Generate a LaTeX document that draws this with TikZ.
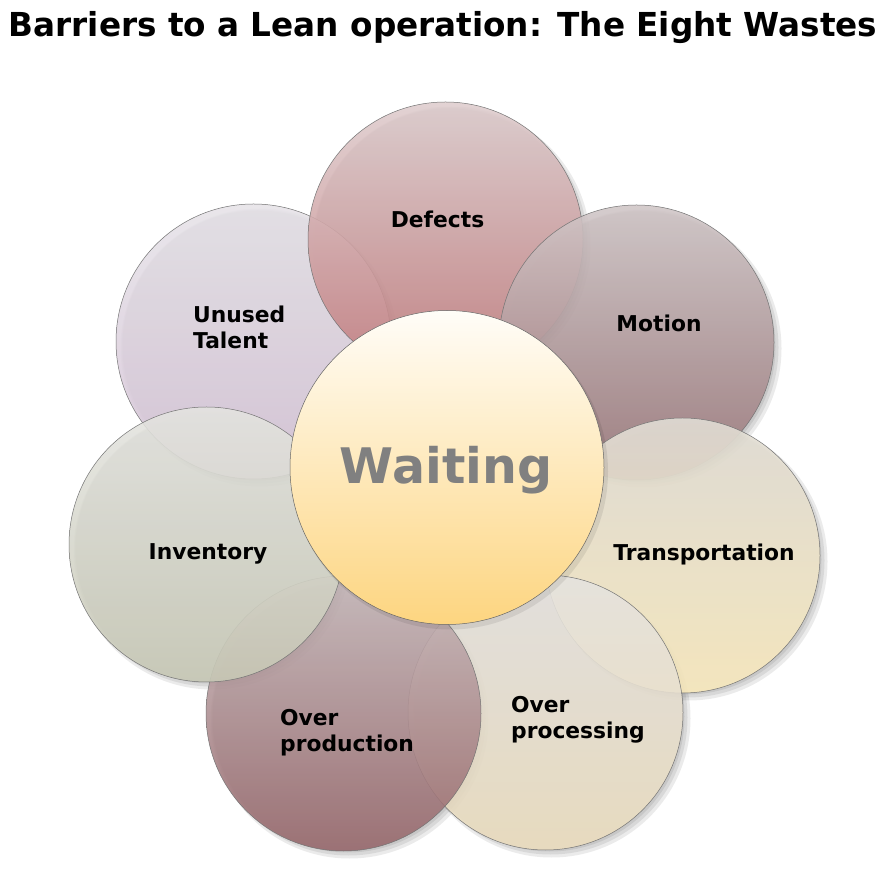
\documentclass[tikz,border=0pt]{standalone}
\usepackage{fontspec}
\setmainfont{DejaVu Sans}
\usepackage{graphicx}
\begin{document}
\begin{tikzpicture}[x=1pt,y=1pt,
  blob/.style={circle, minimum size=275pt, inner sep=0pt, draw=black!55, line width=0.5pt, fill opacity=0.88},
  hub/.style={circle, minimum size=314pt, inner sep=0pt, draw=black!60, line width=0.5pt},
  lbl/.style={font=\fontsize{21.8}{26}\selectfont\bfseries, text=black, align=left, inner sep=0pt},
  shd/.style={fill=black, opacity=0.08}
]
\useasboundingbox (0,0) rectangle (886,873);
\fill[white] (0,0) rectangle (886,873);
\definecolor{defA}{RGB}{222,205,206}\definecolor{defB}{RGB}{194,122,124}
\definecolor{motA}{RGB}{208,198,199}\definecolor{motB}{RGB}{152,116,119}
\definecolor{traA}{RGB}{226,222,214}\definecolor{traB}{RGB}{250,234,188}
\definecolor{proA}{RGB}{229,227,224}\definecolor{proB}{RGB}{236,221,190}
\definecolor{prdA}{RGB}{198,184,186}\definecolor{prdB}{RGB}{150,102,106}
\definecolor{invA}{RGB}{228,228,224}\definecolor{invB}{RGB}{200,201,182}
\definecolor{unuA}{RGB}{230,227,232}\definecolor{unuB}{RGB}{214,195,215}
\definecolor{waiA}{RGB}{255,253,248}\definecolor{waiB}{RGB}{253,213,128}
% shadows
\foreach \cx/\cy in {253.5/531.5,445.5/633.5,636.5/530.5,682.5/317.5,545.5/160.5,343.5/159.5,206.5/328.5}{
  \fill[shd] (\cx+6,\cy-6) circle (139);
  \fill[shd] (\cx+5,\cy-5) circle (137);
  \fill[shd] (\cx+4,\cy-4) circle (135);
}
\node[blob, top color=unuA, bottom color=unuB] (unused) at (253.5,531.5) {};
\node[blob, top color=defA, bottom color=defB] (defects) at (445.5,633.5) {};
\node[blob, top color=motA, bottom color=motB] (motion) at (636.5,530.5) {};
\node[blob, top color=traA, bottom color=traB] (transport) at (682.5,317.5) {};
\node[blob, top color=proA, bottom color=proB] (processing) at (545.5,160.5) {};
\node[blob, top color=prdA, bottom color=prdB] (production) at (343.5,159.5) {};
\node[blob, top color=invA, bottom color=invB] (inventory) at (206.5,328.5) {};
\fill[shd] (450,401.5) circle (158);
\node[hub, top color=waiA, bottom color=waiB] (waiting) at (447,405.5) {};
% labels
\node[lbl] (tdef) at (437.5,654) {Defects};
\node[lbl, anchor=west] (tunu) at (193,546) {Unused\\Talent};
\node[lbl] (tmot) at (659,550) {Motion};
\node[lbl] (tinv) at (208,319) {Inventory};
\node[lbl] (ttra) at (704,319) {Transportation};
\node[lbl, anchor=west] (tprd) at (280,140) {Over\\production};
\node[lbl, anchor=west] (tpro) at (511,153) {Over\\processing};
\node[font=\fontsize{49}{55}\selectfont\bfseries, text=black!50, inner sep=0pt] (twai) at (446,403) {Waiting};
\node[font=\fontsize{33}{38}\selectfont\bfseries, inner sep=0pt] (title) at (443,845) {\scalebox{0.99}[1]{Barriers to a Lean operation: The Eight Wastes}};
\end{tikzpicture}
\end{document}
